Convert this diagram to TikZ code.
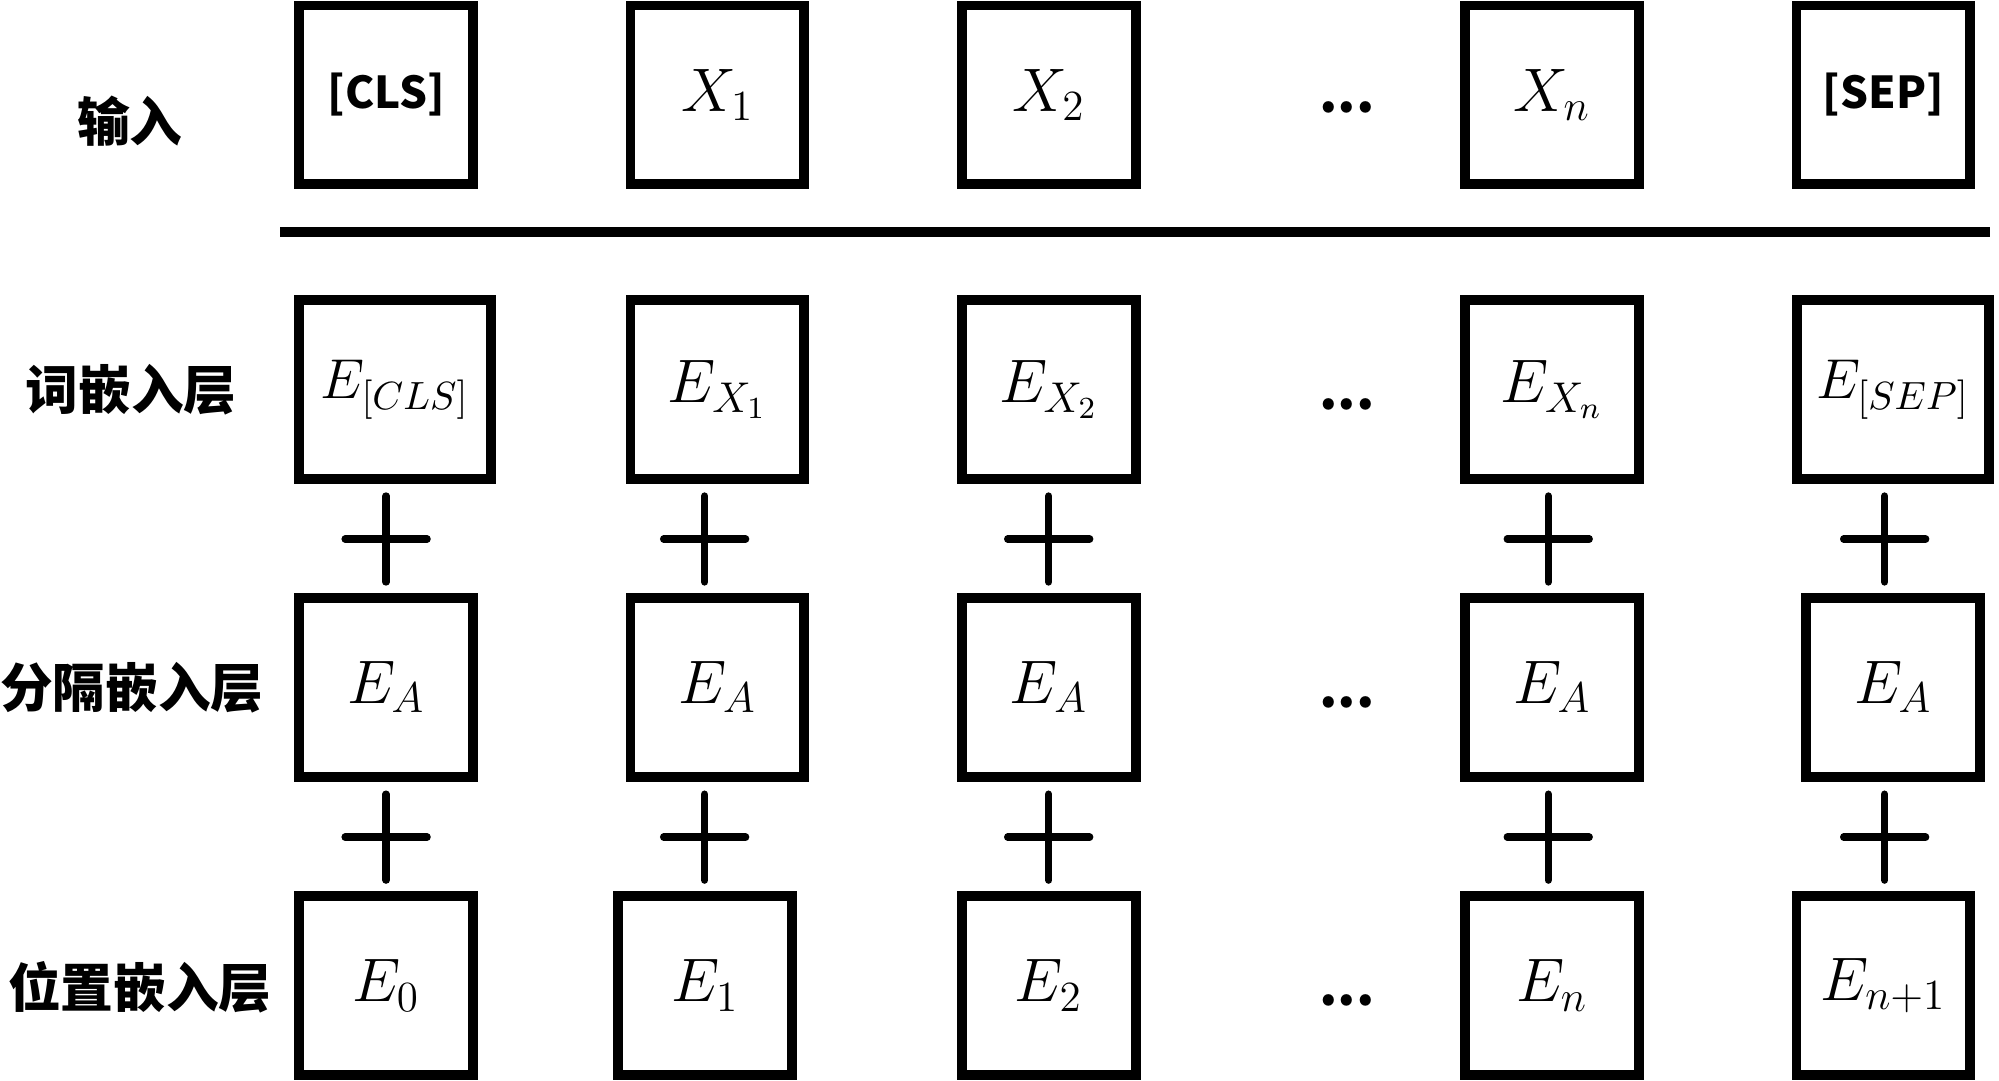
\documentclass[tikz,border=0pt]{standalone}
\usepackage{fix-cm}
\usepackage{amsmath}
\usepackage{fontspec}
\newfontfamily\cjk{Noto Sans CJK SC}
\usetikzlibrary{positioning, calc}

\begin{document}
\begin{tikzpicture}[
    box/.style={rectangle, draw, line width=2.8pt, minimum width=1.74cm, minimum height=1.79cm, inner sep=0pt},
    widebox/.style={box, minimum width=1.92cm},
    layer/.style={font=\cjk\bfseries\fontsize{15}{18}\selectfont},
    token/.style={font=\cjk\bfseries\fontsize{12.5}{15}\selectfont},
    mth/.style={font=\fontsize{17.5}{20}\selectfont},
    smallmth/.style={font=\fontsize{16}{19}\selectfont},
    dotsnode/.style={font=\cjk\bfseries\fontsize{15}{18}\selectfont, inner sep=0pt},
    plusmark/.style={line width=2.1pt, line cap=round}
]
    \useasboundingbox (0,0) rectangle (20,10.81);

    % 输入
    \begin{scope}[shift={(0,9.86)}]
        \node[layer] (lin) at (1.30,-0.26) {输入};
        \node[box, token] (in1) at (3.863,0) {[CLS]};
        \node[box, mth] (in2) at (7.178,0) {$X_1$};
        \node[box, mth] (in3) at (10.492,0) {$X_2$};
        \node[dotsnode] (in4) at (13.476,-0.12) {...};
        \node[box, mth] (in5) at (15.528,0) {$X_n$};
        \node[box, token] (in6) at (18.843,0) {[SEP]};
    \end{scope}

    % 分割线
    \coordinate (ruleL) at (2.805,8.49);
    \coordinate (ruleR) at (19.914,8.49);
    \draw[line width=2.8pt] (ruleL) -- (ruleR);

    % 词嵌入层
    \begin{scope}[shift={(0,6.91)}]
        \node[layer] (lw) at (1.313,0) {词嵌入层};
        \node[widebox, smallmth] (w1) at (3.952,0) {$E_{[CLS]}$};
        \node[box, mth] (w2) at (7.178,0) {$E_{X_1}$};
        \node[box, mth] (w3) at (10.492,0) {$E_{X_2}$};
        \node[dotsnode] (w4) at (13.476,-0.15) {...};
        \node[box, mth] (w5) at (15.528,0) {$E_{X_n}$};
        \node[widebox, smallmth] (w6) at (18.94,0) {$E_{[SEP]}$};
    \end{scope}

    % 分隔嵌入层
    \begin{scope}[shift={(0,3.934)}]
        \node[layer] (ls) at (1.32,0) {分隔嵌入层};
        \node[box, mth] (s1) at (3.863,0) {$E_A$};
        \node[box, mth] (s2) at (7.178,0) {$E_A$};
        \node[box, mth] (s3) at (10.492,0) {$E_A$};
        \node[dotsnode] (s4) at (13.476,-0.15) {...};
        \node[box, mth] (s5) at (15.528,0) {$E_A$};
        \node[box, mth] (s6) at (18.94,0) {$E_A$};
    \end{scope}

    % 位置嵌入层
    \begin{scope}[shift={(0,0.95)}]
        \node[layer] (lp) at (1.40,-0.02) {位置嵌入层};
        \node[box, mth] (p1) at (3.863,0) {$E_0$};
        \node[box, mth] (p2) at (7.057,0) {$E_1$};
        \node[box, mth] (p3) at (10.492,0) {$E_2$};
        \node[dotsnode] (p4) at (13.476,-0.15) {...};
        \node[box, mth] (p5) at (15.528,0) {$E_n$};
        \node[box, mth] (p6) at (18.843,0) {$E_{n+1}$};
    \end{scope}

    % 加号
    \coordinate (pa1) at (3.863,5.417);
    \coordinate (pa2) at (7.050,5.417);
    \coordinate (pa3) at (10.492,5.417);
    \coordinate (pa4) at (15.490,5.417);
    \coordinate (pa5) at (18.856,5.417);
    \coordinate (pb1) at (3.863,2.434);
    \coordinate (pb2) at (7.050,2.434);
    \coordinate (pb3) at (10.492,2.434);
    \coordinate (pb4) at (15.490,2.434);
    \coordinate (pb5) at (18.856,2.434);
    \draw[plusmark] (pa1) +(0,-0.43) -- +(0,0.43) +(-0.41,0) -- +(0.41,0);
    \draw[plusmark] (pa2) +(0,-0.43) -- +(0,0.43) +(-0.41,0) -- +(0.41,0);
    \draw[plusmark] (pa3) +(0,-0.43) -- +(0,0.43) +(-0.41,0) -- +(0.41,0);
    \draw[plusmark] (pa4) +(0,-0.43) -- +(0,0.43) +(-0.41,0) -- +(0.41,0);
    \draw[plusmark] (pa5) +(0,-0.43) -- +(0,0.43) +(-0.41,0) -- +(0.41,0);
    \draw[plusmark] (pb1) +(0,-0.43) -- +(0,0.43) +(-0.41,0) -- +(0.41,0);
    \draw[plusmark] (pb2) +(0,-0.43) -- +(0,0.43) +(-0.41,0) -- +(0.41,0);
    \draw[plusmark] (pb3) +(0,-0.43) -- +(0,0.43) +(-0.41,0) -- +(0.41,0);
    \draw[plusmark] (pb4) +(0,-0.43) -- +(0,0.43) +(-0.41,0) -- +(0.41,0);
    \draw[plusmark] (pb5) +(0,-0.43) -- +(0,0.43) +(-0.41,0) -- +(0.41,0);
\end{tikzpicture}
\end{document}
